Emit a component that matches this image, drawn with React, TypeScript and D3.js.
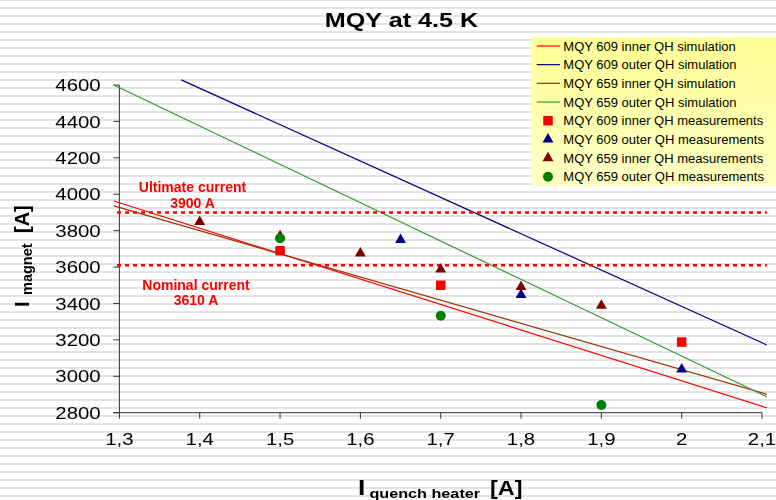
import React from "react";
import * as d3 from "d3";

// ---- data ----
const title = "MQY at 4.5 K";
const xTicks = [1.3, 1.4, 1.5, 1.6, 1.7, 1.8, 1.9, 2.0, 2.1];
const yTicks = [2800, 3000, 3200, 3400, 3600, 3800, 4000, 4200, 4400, 4600];

// simulation lines (endpoints)
const sim609InnerX = [1.293, 2.106];
const sim609InnerY = [3963, 2827];
const sim609OuterX = [1.377, 2.106];
const sim609OuterY = [4628, 3172];
const sim659InnerX = [1.293, 2.106];
const sim659InnerY = [3936, 2901];
const sim659OuterX = [1.293, 2.106];
const sim659OuterY = [4600, 2888];

// measurements
const meas609InnerX = [1.5, 1.7, 2.0];
const meas609InnerY = [3690, 3500, 3188];
const meas609OuterX = [1.65, 1.8, 2.0];
const meas609OuterY = [3750, 3447, 3038];
const meas659InnerX = [1.4, 1.5, 1.6, 1.7, 1.8, 1.9];
const meas659InnerY = [3848, 3770, 3676, 3588, 3492, 3388];
const meas659OuterX = [1.5, 1.7, 1.9];
const meas659OuterY = [3758, 3333, 2842];

// reference currents
const refNames = ["Ultimate current", "Nominal current"];
const refValues = [3900, 3610];
const refXRange = [1.297, 2.106];

const legendLabels = [
  "MQY 609 inner QH simulation",
  "MQY 609 outer QH simulation",
  "MQY 659 inner QH simulation",
  "MQY 659 outer QH simulation",
  "MQY 609 inner QH measurements",
  "MQY 609 outer QH measurements",
  "MQY 659 inner QH measurements",
  "MQY 659 outer QH measurements",
];

const C_RED = "#ff0000";
const C_NAVY = "#000080";
const C_BROWN = "#993300";
const C_GREEN = "#339933";
const C_DARKRED = "#800000";
const C_GREEN_M = "#008000";

const zip = (xs: number[], ys: number[]) => xs.map((x, i) => [x, ys[i]] as [number, number]);

export default function App() {
  const W = 776, H = 500;
  const x = d3.scaleLinear().domain([1.3, 2.1]).range([119.4, 762]);
  const y = d3.scaleLinear().domain([2800, 4600]).range([412.7, 85]);
  const line = d3.line<[number, number]>().x(d => x(d[0])).y(d => y(d[1]));

  const sims = [
    { d: zip(sim609InnerX, sim609InnerY), c: C_RED },
    { d: zip(sim609OuterX, sim609OuterY), c: C_NAVY },
    { d: zip(sim659InnerX, sim659InnerY), c: C_BROWN },
    { d: zip(sim659OuterX, sim659OuterY), c: C_GREEN },
  ];
  const sq = d3.symbol().type(d3.symbolSquare).size(90)()!;
  const tri = d3.symbol().type(d3.symbolTriangle).size(52)()!;
  const circ = d3.symbol().type(d3.symbolCircle).size(78)()!;
  const meas = [
    { d: zip(meas609InnerX, meas609InnerY), c: C_RED, p: sq },
    { d: zip(meas609OuterX, meas609OuterY), c: C_NAVY, p: tri },
    { d: zip(meas659InnerX, meas659InnerY), c: C_DARKRED, p: tri },
    { d: zip(meas659OuterX, meas659OuterY), c: C_GREEN_M, p: circ },
  ];
  const legendColors = [C_RED, C_NAVY, C_BROWN, C_GREEN, C_RED, C_NAVY, C_DARKRED, C_GREEN_M];
  const legendSyms = [null, null, null, null, sq, tri, tri, circ];
  const fmt = (v: number) => (Number.isInteger(v) ? String(v) : String(v).replace(".", ","));
  const font = "'Liberation Sans', Arial, sans-serif";
  const labelOffsets = [[192.5, 192, 207.7], [196, 289.5, 305]];
  const refAmps = refValues.map(v => `${v} A`);

  return (
    <svg width={W} height={H} style={{ position: "fixed", left: 0, top: 0 }} fontFamily={font}>
      <defs>
        <pattern id="stripes" patternUnits="userSpaceOnUse" width={8} height={8}>
          <rect width={8} height={8} fill="#ffffff" />
          <rect y={7} width={8} height={2} fill="#e4e4e4" />
          <rect y={-1} width={8} height={2} fill="#e4e4e4" />
        </pattern>
        <linearGradient id="leg" x1="0" y1="0" x2="0" y2="1">
          <stop offset="0" stopColor="#ffff96" />
          <stop offset="1" stopColor="#ffffc4" />
        </linearGradient>
      </defs>
      <rect width={W} height={H} fill="url(#stripes)" />

      {/* title */}
      <g transform="translate(401.5,26.7) scale(1.2,1)">
        <text textAnchor="middle" fontSize={21} fontWeight="bold" fill="#000">{title}</text>
      </g>

      {/* axes */}
      <line x1={x(1.3)} x2={x(1.3)} y1={y(4600)} y2={y(2800)} stroke="#333" strokeWidth={1} />
      <line x1={x(1.3) - 6} x2={x(2.1)} y1={y(2800)} y2={y(2800)} stroke="#333" strokeWidth={1} />
      {yTicks.map(t => (
        <g key={"y" + t}>
          <line x1={x(1.3) - 6} x2={x(1.3)} y1={y(t)} y2={y(t)} stroke="#333" />
          <g transform={`translate(100.7,${y(t) + 6.1}) scale(1.2,1)`}>
            <text textAnchor="end" fontSize={17} fill="#000">{fmt(t)}</text>
          </g>
        </g>
      ))}
      {xTicks.map(t => (
        <g key={"x" + t}>
          <line x1={x(t)} x2={x(t)} y1={y(2800)} y2={y(2800) + 6} stroke="#333" />
          <g transform={`translate(${x(t)},445) scale(1.2,1)`}>
            <text textAnchor="middle" fontSize={17} fill="#000">{fmt(t)}</text>
          </g>
        </g>
      ))}

      {/* axis titles */}
      <g transform="translate(358,495) scale(1.2,1)" fontWeight="bold" fill="#000">
        <text>
          <tspan x={0} fontSize={22}>I</tspan>
          <tspan x={9.5} dy={3} fontSize={13.5}>quench heater</tspan>
          <tspan x={110} dy={-3} fontSize={19.5}>[A]</tspan>
        </text>
      </g>
      <g transform="translate(29,307) rotate(-90)" fontWeight="bold" fill="#000">
        <text>
          <tspan x={0} fontSize={20}>I</tspan>
          <tspan x={12} dy={3} fontSize={14.5}>magnet</tspan>
          <tspan x={74} dy={-3} fontSize={20}>[A]</tspan>
        </text>
      </g>

      {/* simulation lines */}
      {sims.map((s, i) => (
        <path key={"s" + i} d={line(s.d)!} fill="none" stroke={s.c} strokeWidth={1.2} />
      ))}

      {/* reference currents */}
      {refValues.map((v, i) => (
        <g key={"r" + i}>
          <line x1={x(refXRange[0])} x2={x(refXRange[1])} y1={y(v)} y2={y(v)}
            stroke="#ff0000" strokeWidth={2.5} strokeDasharray="4,4" />
          <text x={labelOffsets[i][0]} y={labelOffsets[i][1]} textAnchor="middle" fontSize={14} fontWeight="bold" fill="#ff0000">{refNames[i]}</text>
          <text x={labelOffsets[i][0]} y={labelOffsets[i][2]} textAnchor="middle" fontSize={14} fontWeight="bold" fill="#ff0000">{refAmps[i]}</text>
        </g>
      ))}

      {/* measurements */}
      {meas.map((m, i) => (
        <g key={"m" + i}>
          {m.d.map((p, j) => (
            <path key={j} d={m.p} transform={`translate(${x(p[0])},${y(p[1])})`} fill={m.c} />
          ))}
        </g>
      ))}

      {/* legend */}
      <rect x={532} y={37} width={244} height={149} fill="url(#leg)" />
      {legendLabels.map((lab, i) => {
        const cy = 46 + i * 18.67;
        const s = legendSyms[i];
        return (
          <g key={"l" + i}>
            {s ? (
              <path d={s} transform={`translate(548,${cy})`} fill={legendColors[i]} />
            ) : (
              <line x1={536.7} x2={560} y1={cy} y2={cy} stroke={legendColors[i]} strokeWidth={1.2} />
            )}
            <text x={563.3} y={cy + 4.6} fontSize={13} fill="#000">{lab}</text>
          </g>
        );
      })}
    </svg>
  );
}
